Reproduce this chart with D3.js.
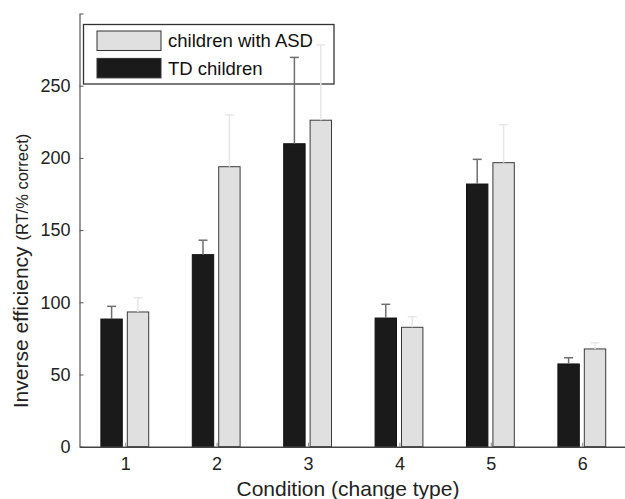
<!DOCTYPE html>
<html>
<head>
<meta charset="utf-8">
<script src="https://cdn.jsdelivr.net/npm/d3@7"></script>
<style>
  body { margin: 0; background: #fff; }
  svg { font-family: "Liberation Sans", Arial, sans-serif; }
</style>
</head>
<body>
<svg width="625" height="499"></svg>
<script>
// data
var conditions = [1, 2, 3, 4, 5, 6];
var series = ["TD children", "children with ASD"];
var tdMeans = [88.4, 133, 209.8, 89.1, 181.9, 57.3];
var tdErr = [97.2, 143, 269.6, 98.6, 199, 61.6];
var asdMeans = [93.3, 193.9, 226.1, 82.7, 196.7, 67.7];
var asdErr = [103.2, 229.7, 278.2, 90, 223, 72];
var yTicks = [0, 50, 100, 150, 200, 250, 300];
var yLabels = [0, 50, 100, 150, 200, 250];

const svg = d3.select("svg");

var x = d3.scaleLinear().domain([0.5, 6.5]).range([79.5, 627.9]);
var y = d3.scaleLinear().domain([0, 300]).range([446.7, 13.5]);
var xSub = d3.scaleBand().domain(series).range([-24.3, 23.5]).paddingInner(0.19);

var fills = { "TD children": "#1a1a1a", "children with ASD": "#e0e0e0" };
var errColor = { "TD children": "#6e6e6e", "children with ASD": "#e6e6e6" };

var rows = [];
conditions.forEach(function (c, i) {
  rows.push({ c: c, s: series[0], v: tdMeans[i], e: tdErr[i] });
  rows.push({ c: c, s: series[1], v: asdMeans[i], e: asdErr[i] });
});

// bars
svg.append("g")
  .selectAll("rect")
  .data(rows)
  .join("rect")
  .attr("x", function (d) { return x(d.c) + xSub(d.s); })
  .attr("width", xSub.bandwidth())
  .attr("y", function (d) { return y(d.v); })
  .attr("height", function (d) { return y(0) - y(d.v); })
  .attr("fill", function (d) { return fills[d.s]; })
  .attr("stroke", function (d) { return d.s == series[0] ? "#111" : "#3a3a3a"; })
  .attr("stroke-width", 1);

// legend
var lg = svg.append("g");
lg.append("rect")
  .attr("x", 83.5).attr("y", 24.5).attr("width", 250.5).attr("height", 59.5)
  .attr("fill", "#fff").attr("stroke", "#333").attr("stroke-width", 1.3);
var legendItems = [series[1], series[0]];
lg.selectAll("rect.sw")
  .data(legendItems)
  .join("rect")
  .attr("class", "sw")
  .attr("x", 97).attr("width", 64)
  .attr("y", function (d, i) { return 31 + i * 27.4; })
  .attr("height", 19.5)
  .attr("fill", function (d) { return fills[d]; })
  .attr("stroke", "#333").attr("stroke-width", 1);
lg.selectAll("text")
  .data(legendItems)
  .join("text")
  .attr("x", 168)
  .attr("y", function (d, i) { return 46.6 + i * 28.4; })
  .attr("font-size", 18.5)
  .attr("fill", "#111")
  .text(function (d) { return d; });

// error bars (drawn over the legend, like the original)
var eb = svg.append("g");
eb.selectAll("line.stem")
  .data(rows)
  .join("line")
  .attr("class", "stem")
  .attr("x1", function (d) { return x(d.c) + xSub(d.s) + xSub.bandwidth() / 2; })
  .attr("x2", function (d) { return x(d.c) + xSub(d.s) + xSub.bandwidth() / 2; })
  .attr("y1", function (d) { return y(d.v); })
  .attr("y2", function (d) { return y(d.e); })
  .attr("stroke", function (d) { return errColor[d.s]; })
  .attr("stroke-width", 1.5);
eb.selectAll("line.cap")
  .data(rows)
  .join("line")
  .attr("class", "cap")
  .attr("x1", function (d) { return x(d.c) + xSub(d.s) + xSub.bandwidth() / 2 - 4.5; })
  .attr("x2", function (d) { return x(d.c) + xSub(d.s) + xSub.bandwidth() / 2 + 4.5; })
  .attr("y1", function (d) { return y(d.e); })
  .attr("y2", function (d) { return y(d.e); })
  .attr("stroke", function (d) { return errColor[d.s]; })
  .attr("stroke-width", 1.5);

// y axis
var yAxis = d3.axisLeft(y)
  .tickValues(yTicks)
  .tickSizeInner(-4)
  .tickSizeOuter(0)
  .tickPadding(9)
  .tickFormat(function (d) { return yLabels.indexOf(d) >= 0 ? d : ""; });
var gy = svg.append("g")
  .attr("transform", "translate(" + x(0.5) + ",0)")
  .call(yAxis);
gy.select(".domain").attr("stroke", "#555").attr("stroke-width", 1.2);
gy.selectAll(".tick line").attr("stroke", "#555");
gy.selectAll("text").attr("font-size", 18).attr("fill", "#222")
  .attr("font-family", "Liberation Sans, Arial, sans-serif");

// x axis
var xAxis = d3.axisBottom(x)
  .tickValues(conditions)
  .tickFormat(d3.format("d"))
  .tickSizeInner(-4)
  .tickSizeOuter(0)
  .tickPadding(11);
var gx = svg.append("g")
  .attr("transform", "translate(0," + y(0) + ")")
  .call(xAxis);
gx.select(".domain").attr("stroke", "#444").attr("stroke-width", 1.5);
gx.selectAll(".tick line").attr("stroke", "#888");
gx.selectAll("text").attr("font-size", 18).attr("fill", "#222")
  .attr("font-family", "Liberation Sans, Arial, sans-serif");

// axis titles
svg.append("text")
  .attr("x", 348).attr("y", 496)
  .attr("text-anchor", "middle")
  .attr("font-size", 21)
  .attr("fill", "#222")
  .text("Condition (change type)");

var yt = svg.append("text")
  .attr("transform", "translate(28.3,408.3) rotate(-90)")
  .attr("fill", "#222");
yt.append("tspan").attr("font-size", 21).text("Inverse efficiency ");
yt.append("tspan").attr("font-size", 16.5).text("(RT/% correct)");
</script>
</body>
</html>
